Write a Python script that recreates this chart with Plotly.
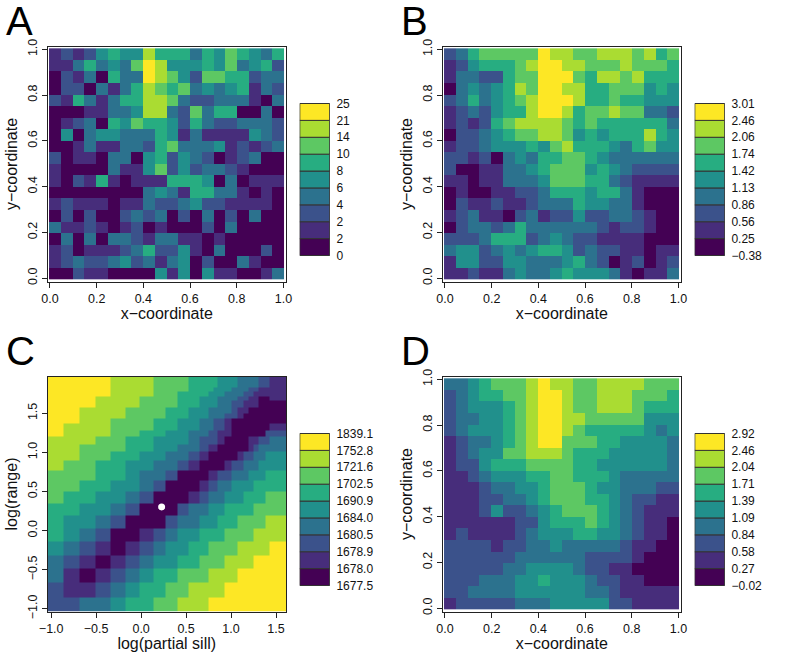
import plotly.graph_objects as go

W, H = 789, 659
VIRIDIS9 = ["#440154", "#472D7B", "#3B528B", "#2C728E", "#21908C", "#27AD81", "#5DC863", "#AADC32", "#FDE725"]

# Cell edges of the 20 x 20 spatial grid
GRID_EDGES = [-0.004, 0.0464, 0.0968, 0.1472, 0.1976, 0.248, 0.2984, 0.3488, 0.3992, 0.4496, 0.5,
              0.5504, 0.6008, 0.6512, 0.7016, 0.752, 0.8024, 0.8528, 0.9032, 0.9536, 1.004]

# Legend break labels, bottom to top
A_BREAKS = ["0", "2", "2", "4", "6", "8", "10", "14", "21", "25"]
B_BREAKS = ["\u22120.38", "0.25", "0.56", "0.86", "1.13", "1.42", "1.74", "2.06", "2.46", "3.01"]
C_BREAKS = ["1677.5", "1678.0", "1678.9", "1680.5", "1684.0", "1690.9", "1702.5", "1721.6", "1752.8", "1839.1"]
D_BREAKS = ["\u22120.02", "0.27", "0.58", "0.84", "1.09", "1.39", "1.71", "2.04", "2.46", "2.92"]

# Colour class of each cell, rows from top to bottom
A_LEVELS = [
    [1,2,1,2,4,5,4,4,7,5,5,5,3,5,4,6,5,4,3,5],
    [1,1,3,5,3,4,3,6,8,7,4,4,4,5,4,6,3,4,5,2],
    [0,2,1,3,0,5,3,3,8,7,6,4,2,6,6,5,5,2,3,3],
    [0,2,2,0,3,1,3,5,7,6,5,6,3,4,3,4,5,1,3,2],
    [2,1,5,3,1,3,5,5,7,7,6,3,2,2,3,3,3,1,0,3],
    [0,0,0,1,1,3,3,4,7,7,3,2,6,3,5,5,0,0,3,0],
    [0,1,2,3,0,5,4,6,5,5,4,2,5,3,2,2,3,3,3,2],
    [0,4,0,3,4,4,3,3,3,5,4,1,3,1,1,1,1,4,3,2],
    [0,0,1,3,1,1,3,3,2,5,6,3,3,3,4,1,2,1,2,3],
    [2,0,1,1,0,3,3,0,4,5,2,4,3,2,0,1,2,3,0,0],
    [1,0,0,0,0,3,1,1,4,6,2,4,2,3,3,2,1,0,0,0],
    [1,0,2,1,5,1,0,1,1,1,5,5,5,4,0,3,0,1,1,1],
    [0,0,0,0,0,0,0,0,3,4,3,1,5,5,3,3,1,0,1,0],
    [1,2,1,1,1,0,1,1,3,2,2,3,4,2,2,1,1,1,1,0],
    [0,2,0,2,0,0,2,3,2,3,0,2,0,3,0,2,0,3,0,0],
    [3,1,1,2,1,0,1,2,0,1,0,0,0,2,0,3,0,0,0,0],
    [0,3,0,3,0,3,3,2,1,3,3,1,1,0,1,0,0,0,0,0],
    [1,2,0,1,1,1,2,3,5,2,2,4,1,0,3,0,0,0,2,0],
    [1,2,3,2,2,3,4,2,3,1,3,4,0,2,0,0,3,1,0,0],
    [0,0,2,1,1,0,0,0,0,4,1,4,0,4,1,1,0,0,1,3],
]
B_LEVELS = [
    [2,3,5,6,6,6,6,6,8,7,7,6,6,7,7,7,6,7,5,6],
    [1,2,4,5,5,5,6,7,8,8,7,7,6,6,6,7,6,6,6,5],
    [1,3,3,2,2,5,6,6,8,8,8,6,5,7,7,6,7,5,5,5],
    [0,3,4,3,4,5,7,6,8,8,7,7,5,5,6,6,6,4,5,4],
    [2,3,5,3,4,5,6,7,8,8,8,7,5,5,6,5,5,4,4,4],
    [1,2,3,2,4,5,5,7,8,8,7,5,6,6,7,6,6,3,3,2],
    [1,2,1,2,5,6,7,7,7,7,6,5,6,5,5,5,5,5,5,3],
    [0,2,2,3,4,5,6,6,7,7,6,4,5,4,5,5,5,7,5,4],
    [1,2,2,3,4,4,4,5,4,6,7,5,5,5,4,3,5,6,4,4],
    [2,2,1,2,0,3,4,3,5,5,6,6,5,4,3,3,3,3,3,3],
    [2,0,0,1,1,3,3,4,5,6,6,6,4,5,4,3,2,2,2,2],
    [1,1,0,1,1,3,3,3,4,6,6,6,5,5,3,2,1,1,1,1],
    [0,1,0,0,1,1,2,2,3,5,5,5,4,5,5,3,1,0,0,0],
    [0,2,1,1,2,1,1,2,3,3,3,5,4,4,3,3,1,0,0,0],
    [1,2,3,1,1,0,2,3,1,2,2,4,2,2,3,3,2,1,0,0],
    [0,2,3,3,2,3,5,3,3,3,3,3,3,2,1,2,2,1,0,0],
    [2,2,2,3,5,5,5,2,3,4,3,2,2,1,1,1,1,0,0,0],
    [3,4,4,2,3,4,3,4,5,5,4,2,3,2,2,1,1,0,1,1],
    [1,4,4,2,2,4,4,3,3,3,4,5,3,2,0,1,2,0,1,2],
    [1,1,2,1,1,3,4,3,3,4,5,4,4,4,3,1,0,1,1,3],
]
D_LEVELS = [
    [3,3,4,5,6,6,6,7,8,7,7,6,6,7,7,7,7,6,6,6],
    [2,3,4,5,5,6,6,7,8,8,7,6,6,7,7,7,6,6,6,5],
    [2,3,4,4,4,5,6,7,8,8,7,6,6,7,7,7,6,5,5,5],
    [2,3,3,4,4,5,6,7,8,8,7,7,6,6,6,6,6,4,4,4],
    [2,3,4,4,4,5,6,7,8,8,7,6,5,5,5,5,5,4,3,4],
    [1,2,3,3,4,5,6,7,8,8,6,6,6,5,5,4,4,4,4,3],
    [1,2,3,4,4,6,6,7,7,7,6,5,5,5,4,4,4,4,4,3],
    [1,2,2,4,5,5,5,6,6,6,6,5,5,4,4,4,4,4,4,3],
    [1,1,2,3,4,4,4,5,5,6,6,5,5,5,4,3,3,3,3,3],
    [1,1,1,2,3,3,4,4,5,6,6,6,5,4,4,3,3,3,2,2],
    [1,1,1,2,2,3,3,4,5,6,6,6,5,5,4,3,2,2,1,1],
    [1,1,1,2,4,2,2,3,4,5,6,6,6,5,4,3,2,1,1,1],
    [1,1,1,1,1,1,2,2,4,5,5,5,6,5,4,3,2,1,1,0],
    [1,2,1,1,1,1,2,3,4,4,4,5,5,4,4,3,2,1,1,0],
    [2,2,2,2,1,2,2,3,3,4,3,3,3,3,3,2,1,1,0,0],
    [2,2,2,2,2,2,3,3,3,3,3,3,2,2,2,2,1,0,0,0],
    [2,2,2,2,2,3,3,4,4,4,4,3,2,2,1,1,0,0,0,0],
    [2,2,2,3,3,3,4,4,5,4,4,4,3,2,2,1,1,0,0,0],
    [2,2,3,3,3,3,4,4,4,4,4,4,3,3,2,1,1,1,1,1],
    [1,2,2,2,2,2,3,3,3,4,4,4,4,4,2,2,1,1,1,1],
]

# Likelihood surface: irregular cell edges in log(partial sill) and log(range)
C_X_EDGES = [-1.041, -0.859, -0.681, -0.503, -0.336, -0.177, -0.021, 0.135, 0.272, 0.409, 0.532, 0.654,
             0.754, 0.803, 0.847, 0.932, 1.007, 1.077, 1.136, 1.192, 1.248, 1.303, 1.378, 1.426, 1.611]
C_Y_EDGES = [-1.034, -0.850, -0.667, -0.487, -0.316, -0.137, 0.026, 0.197, 0.346, 0.500, 0.637, 0.774, 0.893,
             1.009, 1.107, 1.201, 1.286, 1.363, 1.427, 1.500, 1.577, 1.662, 1.714, 1.774, 1.833, 1.970]
# rows from bottom to top
C_LEVELS = [
    [2,2,3,3,4,5,5,6,6,7,7,7,8,8,8,8,8,8,8,8,8,8,8,8],
    [2,1,1,2,3,4,5,5,6,6,7,7,7,7,7,8,8,8,8,8,8,8,8,8],
    [3,1,0,1,2,3,4,5,5,6,6,6,7,7,7,7,7,8,8,8,8,8,8,8],
    [3,2,1,0,1,2,3,4,4,5,5,6,6,6,6,7,7,7,7,7,8,8,8,8],
    [4,3,2,1,0,1,2,3,4,4,5,5,6,6,6,6,6,7,7,7,7,7,7,8],
    [5,4,3,2,0,0,1,2,3,4,4,5,5,5,5,6,6,6,6,6,7,7,7,7],
    [5,4,4,3,2,0,0,0,2,3,3,4,4,4,5,5,5,6,6,6,6,6,7,7],
    [5,5,4,4,3,2,0,0,0,2,3,3,4,4,4,5,5,5,5,5,6,6,6,6],
    [6,5,5,4,4,3,2,0,0,0,1,2,3,3,3,4,4,4,5,5,5,5,6,6],
    [6,6,5,5,4,4,3,2,0,0,0,1,2,2,3,3,4,4,4,4,5,5,5,5],
    [6,6,6,5,5,4,3,3,2,0,0,0,1,1,2,2,3,3,3,4,4,4,5,5],
    [7,6,6,5,5,4,4,3,3,2,1,0,0,0,0,1,2,2,3,3,3,4,4,4],
    [7,7,6,6,5,5,4,4,3,3,2,1,0,0,0,0,0,1,2,2,3,3,4,4],
    [7,7,6,6,6,5,5,4,4,3,3,2,1,1,0,0,0,0,0,1,2,3,3,3],
    [7,7,7,6,6,5,5,4,4,4,3,2,2,2,1,0,0,0,0,1,1,2,2,3],
    [8,7,7,7,6,6,5,5,4,4,3,3,2,2,1,1,0,0,0,0,0,0,2,2],
    [8,7,7,7,6,6,6,5,5,4,4,3,3,2,2,1,0,0,0,0,0,0,0,1],
    [8,8,7,7,6,6,6,5,5,4,4,3,3,2,2,1,0,0,0,0,0,0,0,0],
    [8,8,7,7,7,6,6,6,5,5,4,4,3,3,3,2,2,1,0,0,0,0,0,0],
    [8,8,7,7,7,6,6,6,5,5,4,4,3,3,3,3,2,1,1,0,0,0,0,0],
    [8,8,8,7,7,7,6,6,6,5,5,4,4,4,3,3,2,2,1,1,1,0,0,0],
    [8,8,8,7,7,7,6,6,6,5,5,4,4,4,3,3,3,2,2,1,1,0,0,1],
    [8,8,8,8,7,7,7,6,6,5,5,5,4,4,4,3,3,3,2,2,1,1,1,1],
    [8,8,8,8,7,7,7,6,6,6,5,5,5,4,4,4,3,3,3,2,2,1,1,1],
    [8,8,8,8,7,7,7,6,6,6,5,5,5,5,4,4,4,3,3,3,3,2,2,1],
]
C_OPTIMUM_X = [0.228]
C_OPTIMUM_Y = [0.303]

SPATIAL_TICKS = [0.0, 0.2, 0.4, 0.6, 0.8, 1.0]
C_TICKS = [-1.0, -0.5, 0.0, 0.5, 1.0, 1.5]

colorscale = []
for i, c in enumerate(VIRIDIS9):
    colorscale += [[i / 9, c], [(i + 1) / 9, c]]

FONT = "Liberation Sans, Arial, Helvetica, sans-serif"
INK = "#222222"
fig = go.Figure()
layout = {}


def dom(a, b, size):
    return [a / size, b / size]


def add_panel(n, letter, left, top, x_edges, y_edges, z, breaks, xrange, yrange, xticks, yticks, xtitle, ytitle,
              letter_y):
    right, bottom = left + 238.5, top + 235
    xa, ya = f"x{n}", f"y{n}"
    fig.add_trace(go.Heatmap(x=x_edges, y=y_edges, z=z, zmin=-0.5, zmax=8.5, colorscale=colorscale,
                             showscale=False, xaxis=xa, yaxis=ya, hoverinfo="skip"))
    base_axis = dict(showgrid=False, zeroline=False, showline=True, mirror=True, linecolor=INK, linewidth=1,
                     ticks="outside", ticklen=5, tickwidth=1, tickcolor=INK,
                     tickfont=dict(size=12.5, color="#111111", family=FONT), tickformat=".1f",
                     automargin=False)
    layout[f"xaxis{n}"] = dict(base_axis, domain=dom(left, right, W), anchor=ya, range=xrange, tickvals=xticks,
                               title=dict(text=xtitle, font=dict(size=16, color="#111111", family=FONT), standoff=3))
    layout[f"yaxis{n}"] = dict(base_axis, domain=[1 - bottom / H, 1 - top / H], anchor=xa, range=yrange,
                               tickvals=yticks, tickangle=-90,
                               title=dict(text=ytitle, font=dict(size=16, color="#111111", family=FONT), standoff=3))
    # legend of classes, drawn on its own axes
    m = n + 4
    lx0, lx1 = left + 252, left + 282.5
    ly0, ly1 = top + 56.5, top + 209.5
    fig.add_trace(go.Bar(x=[0] * 9, y=[1] * 9, base=list(range(9)), width=1, marker=dict(color=VIRIDIS9,
                         line=dict(color="#333333", width=1)), xaxis=f"x{m}", yaxis=f"y{m}", hoverinfo="skip",
                         cliponaxis=False))
    layout[f"xaxis{m}"] = dict(domain=dom(lx0, lx1, W), anchor=f"y{m}", range=[-0.51, 0.51], visible=False,
                               automargin=False)
    layout[f"yaxis{m}"] = dict(domain=[1 - ly1 / H, 1 - ly0 / H], anchor=f"x{m}", side="right", range=[-0.03, 9.03],
                               tickvals=list(range(10)), ticktext=breaks, showgrid=False, zeroline=False,
                               showline=False, ticks="outside", ticklen=3, tickcolor="rgba(0,0,0,0)",
                               tickfont=dict(size=12, color="#111111", family=FONT), automargin=False)
    fig.add_annotation(text=letter, xref="paper", yref="paper", x=(left - 43.5) / W, y=1 - letter_y / H,
                       xanchor="left", yanchor="middle", showarrow=False,
                       font=dict(size=40, color="black", family=FONT))


S_RANGE = [-0.0105, 1.011]
S_YRANGE = [-0.0146, 1.012]
X_T = "x\u2212coordinate"
Y_T = "y\u2212coordinate"
add_panel(1, "A", 47.5, 46.5, GRID_EDGES, GRID_EDGES, A_LEVELS[::-1], A_BREAKS, S_RANGE, S_YRANGE,
          SPATIAL_TICKS, SPATIAL_TICKS, X_T, Y_T, 21)
add_panel(2, "B", 442.5, 46.5, GRID_EDGES, GRID_EDGES, B_LEVELS[::-1], B_BREAKS, S_RANGE, S_YRANGE,
          SPATIAL_TICKS, SPATIAL_TICKS, X_T, Y_T, 21)
add_panel(3, "C", 47.5, 376.5, C_X_EDGES, C_Y_EDGES, C_LEVELS, C_BREAKS, [-1.041, 1.611], [-1.034, 1.970],
          C_TICKS, C_TICKS, "log(partial sill)", "log(range)", 351)
add_panel(4, "D", 442.5, 376.5, GRID_EDGES, GRID_EDGES, D_LEVELS[::-1], D_BREAKS, S_RANGE, S_YRANGE,
          SPATIAL_TICKS, SPATIAL_TICKS, X_T, Y_T, 351)

fig.add_trace(go.Scatter(x=C_OPTIMUM_X, y=C_OPTIMUM_Y, mode="markers", xaxis="x3", yaxis="y3",
                         marker=dict(color="white", size=7), hoverinfo="skip"))

fig.update_layout(width=W, height=H, margin=dict(l=0, r=0, t=0, b=0, pad=0), autosize=False, template="none",
                  paper_bgcolor="white", plot_bgcolor="white", showlegend=False,
                  barmode="overlay", font=dict(family=FONT), **layout)
fig.write_html("out.html", post_script="document.body.style.margin='0';", config={"displayModeBar": False})
